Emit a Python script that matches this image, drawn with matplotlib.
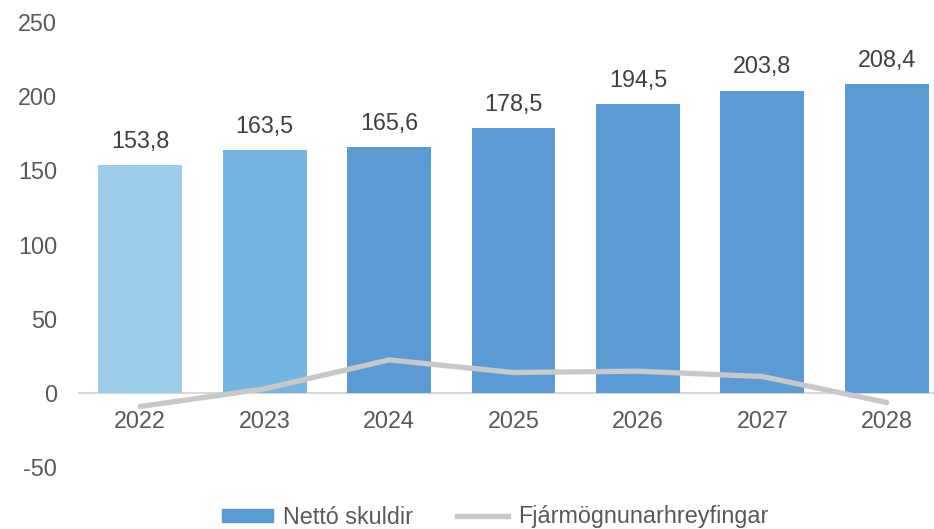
import matplotlib.pyplot as plt
from matplotlib.lines import Line2D
from matplotlib.patches import Patch

years = ["2022", "2023", "2024", "2025", "2026", "2027", "2028"]
net_debt = [153.8, 163.5, 165.6, 178.5, 194.5, 203.8, 208.4]
investment = [-9.2, 2.7, 22.2, 13.7, 14.6, 11.0, -6.5]
bar_colors = ["#9DCBEA", "#75B5E2", "#5B9BD5", "#5B9BD5", "#5B9BD5", "#5B9BD5", "#5B9BD5"]

text_color = "#595959"
fs = 16.8
plt.rcParams["font.family"] = ["Liberation Sans", "DejaVu Sans"]
plt.rcParams["axes.unicode_minus"] = False

fig = plt.figure(figsize=(9.34, 5.29), dpi=100)
ax = fig.add_axes([78 / 934, 1 - 467 / 529, 871 / 934, 445 / 529])

x = range(len(years))
ax.bar(x, net_debt, width=0.675, color=bar_colors, zorder=2)
ax.plot(x, investment, color="#C8C8C8", linewidth=3.8, zorder=3, solid_capstyle="round")

for i, v in enumerate(net_debt):
    ax.text(i, v + 11.5, f"{v:.1f}".replace(".", ","), ha="center", va="baseline",
            fontsize=fs, color="#404040")

ax.axhline(0, color="#D9D9D9", linewidth=1.5, zorder=1)
ax.set_xlim(-0.5, len(years) - 0.5)
ax.set_ylim(-50, 250)
ax.set_yticks(range(-50, 251, 50))
ax.tick_params(axis="y", length=0, pad=15, labelsize=fs, labelcolor=text_color)
ax.set_xticks([])
for s in ax.spines.values():
    s.set_visible(False)

for i, y in enumerate(years):
    ax.text(i, -19, y, ha="center", va="center", fontsize=fs, color=text_color)

handles = [Patch(color="#5B9BD5"), Line2D([], [], color="#C8C8C8", linewidth=3.8)]
fig.legend(handles, ["Nettó skuldir", "Fjármögnunarhreyfingar"], loc="center",
           bbox_to_anchor=(495 / 934, 1 - 517 / 529), ncol=2, frameon=False,
           fontsize=fs, labelcolor=text_color, handlelength=2.2, handletextpad=0.4,
           columnspacing=1.9, handleheight=0.5)

fig.savefig("out.png", dpi=100)
